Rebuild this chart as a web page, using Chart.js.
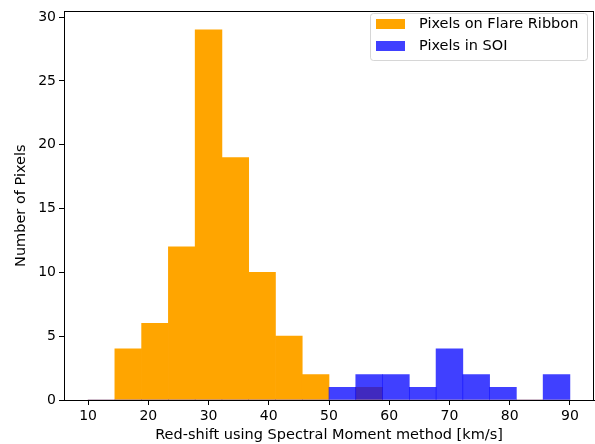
<!DOCTYPE html>
<html>
<head>
<meta charset="utf-8">
<script src="https://cdn.jsdelivr.net/npm/chart.js@4/dist/chart.umd.min.js"></script>
<style>
  body { margin: 0; background: #fff; }
  canvas { display: block; }
</style>
</head>
<body>
<canvas id="hist" width="595" height="444"></canvas>
<script>
// histogram bins (km/s) shared by both series
const binEdges = [10, 14.444, 18.889, 23.333, 27.778, 32.222, 36.667, 41.111, 45.556, 50,
                  54.444, 58.889, 63.333, 67.778, 72.222, 76.667, 81.111, 85.556, 90];
const ribbonCounts = [0, 4, 6, 12, 29, 19, 10, 5, 2, 0, 1, 0, 0, 0, 0, 0, 0, 0];
const soiCounts    = [0, 0, 0, 0, 0, 0, 0, 0, 0, 1, 2, 2, 1, 4, 2, 1, 0, 2];
const seriesLabels = ['Pixels on Flare Ribbon', 'Pixels in SOI'];

const binCenters = binEdges.slice(0, -1).map((e, i) => (e + binEdges[i + 1]) / 2);
const toPoints = counts => counts.map((c, i) => ({ x: binCenters[i], y: c }));

const FONT = 'DejaVu Sans';

// matplotlib-like box around the axes + legend inside the plot
const frameAndLegend = {
    id: 'frameAndLegend',
    afterDraw(chart) {
        const { ctx, chartArea: a } = chart;
        ctx.save();
        ctx.strokeStyle = '#000';
        ctx.lineWidth = 1;
        ctx.strokeRect(Math.round(a.left) + 0.5, Math.round(a.top) + 0.5,
                       Math.round(a.right - a.left) - 1, Math.round(a.bottom - a.top));

        // legend
        const bx = 370, by = 13, bw = 217, bh = 47;
        ctx.beginPath();
        ctx.roundRect(bx + 0.5, by + 0.5, bw, bh, 3);
        ctx.fillStyle = 'rgba(255,255,255,0.8)';
        ctx.fill();
        ctx.strokeStyle = 'rgba(204,204,204,0.8)';
        ctx.stroke();

        ctx.font = '14.5px "' + FONT + '"';
        ctx.textBaseline = 'middle';
        ctx.textAlign = 'left';
        chart.data.datasets.forEach((ds, i) => {
            const y = by + 6 + i * 22;
            ctx.fillStyle = ds.backgroundColor;
            ctx.fillRect(bx + 6, y, 29, 10);
            ctx.fillStyle = '#000';
            ctx.fillText(ds.label, bx + 49, y + 5.5);
        });
        ctx.restore();
    }
};

new Chart(document.getElementById('hist').getContext('2d'), {
    type: 'bar',
    data: {
        datasets: [{
            label: seriesLabels[0],
            data: toPoints(ribbonCounts),
            backgroundColor: '#ffa500',
            borderWidth: 0,
            grouped: false,
            barPercentage: 1,
            categoryPercentage: 1,
            order: 1
        }, {
            label: seriesLabels[1],
            data: toPoints(soiCounts),
            backgroundColor: 'rgba(0,0,255,0.75)',
            borderWidth: 0,
            grouped: false,
            barPercentage: 1,
            categoryPercentage: 1,
            order: 0
        }]
    },
    options: {
        responsive: false,
        animation: false,
        layout: { padding: { top: 5, right: 1, left: 0, bottom: 0 } },
        plugins: {
            legend: { display: false },
            tooltip: { enabled: false }
        },
        scales: {
            x: {
                type: 'linear',
                min: 6,
                max: 94,
                offset: false,
                afterFit: s => { s.height = 44; },
                grid: { drawOnChartArea: false, drawTicks: true, tickLength: 5, color: '#000', offset: false },
                border: { display: true, color: '#000' },
                ticks: {
                    stepSize: 10,
                    includeBounds: false,
                    padding: 3,
                    color: '#000',
                    font: { family: FONT, size: 14 }
                },
                title: {
                    display: true,
                    text: 'Red-shift using Spectral Moment method [km/s]',
                    color: '#000',
                    padding: { top: 0, bottom: 0 },
                    font: { family: FONT, size: 14.5 }
                }
            },
            y: {
                min: 0,
                max: 30.45,
                afterFit: s => { s.width = 64; },
                grid: { drawOnChartArea: false, drawTicks: true, tickLength: 5, color: '#000' },
                border: { display: true, color: '#000' },
                ticks: {
                    stepSize: 5,
                    includeBounds: false,
                    padding: 3,
                    color: '#000',
                    font: { family: FONT, size: 14 }
                },
                title: {
                    display: true,
                    text: 'Number of Pixels',
                    color: '#000',
                    padding: { top: 13, bottom: 0 },
                    font: { family: FONT, size: 14.5 }
                }
            }
        }
    },
    plugins: [frameAndLegend]
});
</script>
</body>
</html>
